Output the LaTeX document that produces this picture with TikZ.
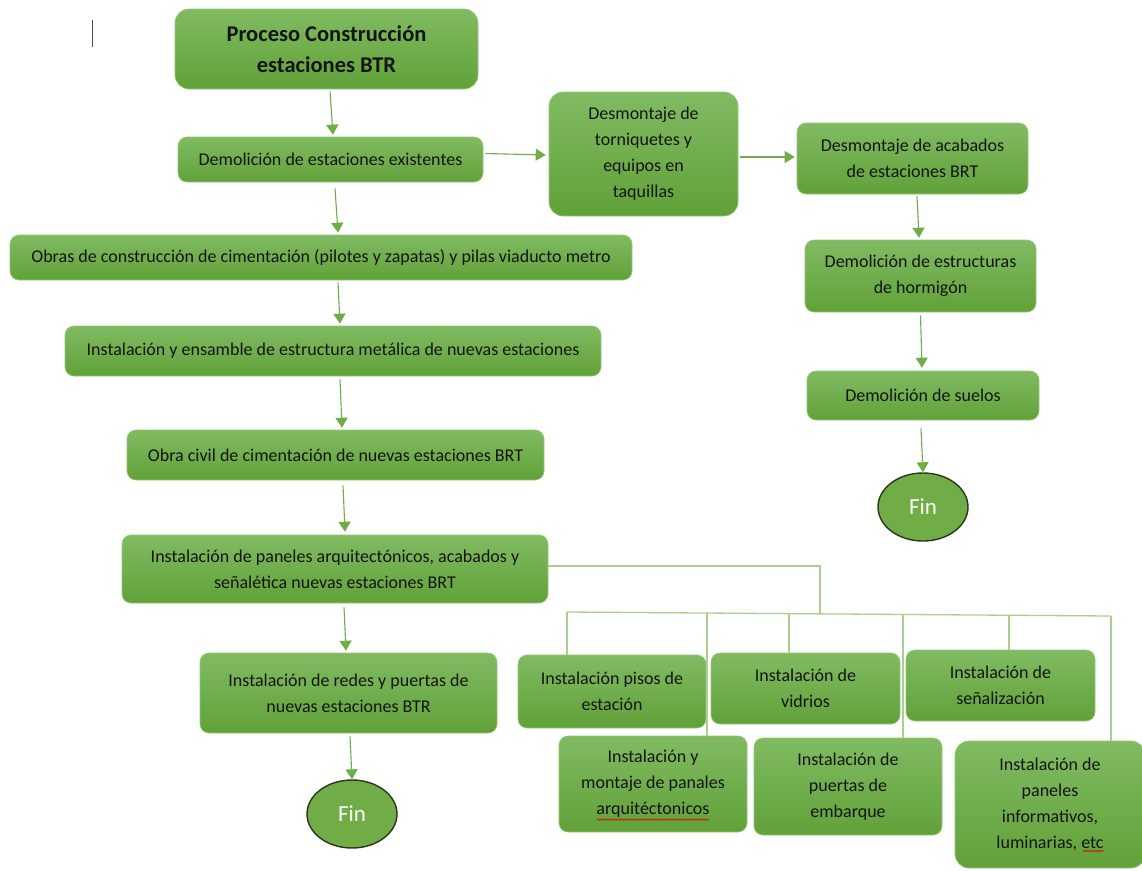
\documentclass[tikz,border=0pt]{standalone}
\usepackage{fontspec}
\setmainfont{Carlito}
\usetikzlibrary{arrows.meta,shapes.geometric,decorations.pathmorphing}

\definecolor{gtop}{RGB}{128,187,98}
\definecolor{gbot}{RGB}{97,161,56}
\definecolor{gedge}{RGB}{150,200,120}
\definecolor{arrowc}{RGB}{112,173,71}
\definecolor{treec}{RGB}{169,208,142}
\definecolor{finedge}{RGB}{40,55,30}
\definecolor{txt}{RGB}{20,20,20}

\begin{document}
\begin{tikzpicture}[x=1pt,y=-1pt,
  box/.style={rounded corners=9pt, top color=gtop, bottom color=gbot, draw=gedge,
    line width=0.6pt, align=center, inner sep=0pt, text=txt,
    font=\fontsize{18}{26}\selectfont},
  bigbox/.style={box, rounded corners=14pt},
  flow/.style={draw=arrowc, line width=1.1pt, -{Triangle[width=12pt,length=10pt]}},
  tree/.style={draw=treec, line width=1.3pt},
  finnode/.style={ellipse, fill=arrowc, draw=finedge, line width=1.4pt,
    minimum width=90pt, minimum height=68pt, text=white,
    font=\fontsize{23}{26}\selectfont, inner sep=0pt}
]
\fill[white] (0,0) rectangle (1142,870);
\useasboundingbox (0,0) rectangle (1142,870);

% text cursor
\draw[black!70, line width=1pt] (92,20) -- (92,47);

% main column
\node[bigbox, minimum width=303pt, minimum height=80pt,
  font=\fontsize{22.5}{31}\selectfont\bfseries] (title) at (326.5,49)
  {Proceso Construcción\\estaciones BTR};
\node[box, minimum width=305pt, minimum height=45pt] (demol) at (330.5,159.5)
  {Demolición de estaciones existentes};
\node[box, minimum width=622pt, minimum height=45pt] (obras) at (321,257.5)
  {Obras de construcción de cimentación (pilotes y zapatas) y pilas viaducto metro};
\node[box, minimum width=536pt, minimum height=50pt] (ensam) at (333,351)
  {Instalación y ensamble de estructura metálica de nuevas estaciones};
\node[box, minimum width=417pt, minimum height=50pt] (civil) at (335.5,455)
  {Obra civil de cimentación de nuevas estaciones BRT};
\node[box, minimum width=426pt, minimum height=68pt] (panel) at (335,569)
  {Instalación de paneles arquitectónicos, acabados y\\señalética nuevas estaciones BRT};
\node[box, minimum width=297pt, minimum height=80pt] (redes) at (348.5,693)
  {Instalación de redes y puertas de\\nuevas estaciones BTR};
\node[finnode] (finL) at (352,814) {Fin};

% demolition branch
\node[bigbox, minimum width=189pt, minimum height=124pt] (torn) at (643.5,154)
  {Desmontaje de\\torniquetes y\\equipos en\\taquillas};
\node[box, minimum width=231pt, minimum height=71pt] (acab) at (912.5,158.5)
  {Desmontaje de acabados\\de estaciones BRT};
\node[box, minimum width=231pt, minimum height=72pt] (horm) at (920.5,276)
  {Demolición de estructuras\\de hormigón};
\node[box, minimum width=232pt, minimum height=49pt] (suelos) at (923,395.5)
  {Demolición de suelos};
\node[finnode] (finR) at (923,507) {Fin};

% installation tasks
\node[box, minimum width=188pt, minimum height=73pt] (pisos) at (612,691.5)
  {Instalación pisos de\\estación};
\node[box, minimum width=188pt, minimum height=96pt] (montaje) at (653,784)
  {Instalación y\\montaje de panales\\arquitéctonicos};
\node[box, minimum width=189pt, minimum height=71pt] (vidrios) at (805.5,688.5)
  {Instalación de\\vidrios};
\node[box, minimum width=188pt, minimum height=97pt] (puertas) at (848,786.5)
  {Instalación de\\puertas de\\embarque};
\node[box, minimum width=189pt, minimum height=71pt] (senal) at (1000.5,685.5)
  {Instalación de\\señalización};
\node[bigbox, minimum width=190pt, minimum height=127pt] (info) at (1050,804.5)
  {Instalación de\\paneles\\informativos,\\luminarias, etc};

% spelling marks
\draw[red!85!black, line width=0.6pt, decorate,
  decoration={snake, amplitude=0.8pt, segment length=3pt}] (597,819.5) -- (709,819.5);
\draw[red!85!black, line width=0.6pt, decorate,
  decoration={snake, amplitude=0.8pt, segment length=3pt}] (1083,851) -- (1104,851);

% flow arrows
\draw[flow] ([xshift=3.5pt,yshift=-2pt]title.south) -- ([xshift=2.5pt,yshift=2pt]demol.north);
\draw[flow] ([xshift=2pt,yshift=6pt]demol.east) -- ([xshift=-3pt,yshift=-1pt]torn.west);
\draw[flow] ([xshift=2pt,yshift=-3pt]torn.east) -- ([xshift=-2pt,yshift=1.5pt]acab.west);
\draw[flow] ([xshift=4.5pt,yshift=-2pt]acab.south) -- ([xshift=-1.5pt,yshift=2pt]horm.north);
\draw[flow] ([yshift=-3pt]horm.south) -- ([xshift=-1pt,yshift=3pt]suelos.north);
\draw[flow] ([xshift=-2pt,yshift=-8pt]suelos.south) -- (finR.north);
\draw[flow] ([xshift=4.5pt,yshift=-6pt]demol.south) -- ([xshift=17pt,yshift=2pt]obras.north);
\draw[flow] ([xshift=17pt,yshift=-2pt]obras.south) -- ([xshift=7pt,yshift=2pt]ensam.north);
\draw[flow] ([xshift=7pt,yshift=-3pt]ensam.south) -- ([xshift=6.5pt,yshift=2pt]civil.north);
\draw[flow] ([xshift=7.5pt,yshift=-5pt]civil.south) -- ([xshift=10pt,yshift=3pt]panel.north);
\draw[flow] ([xshift=9pt,yshift=-4pt]panel.south) -- ([xshift=-2.5pt,yshift=2pt]redes.north);
\draw[flow] ([xshift=1.5pt,yshift=-3pt]redes.south) -- (finL.north);

% distribution tree
\coordinate (bend) at (820,566);
\coordinate (busmid) at (820,612.5);
\coordinate (busL) at (567,612);
\coordinate (bus2) at (707,613);
\coordinate (bus3) at (789,613.6);
\coordinate (bus4) at (903,614.5);
\coordinate (bus5) at (1009,615.3);
\coordinate (busR) at (1111,616);
\draw[tree] ([yshift=3pt]panel.east) -- (bend) -- (busmid);
\draw[tree] (busL) -- (busR);
\draw[tree] (busL) -- (busL |- pisos.north);
\draw[tree] (bus2) -- (bus2 |- montaje.north);
\draw[tree] (bus3) -- (bus3 |- vidrios.north);
\draw[tree] (bus4) -- (bus4 |- puertas.north);
\draw[tree] (bus5) -- (bus5 |- senal.north);
\draw[tree] (busR) -- (busR |- info.north);
\end{tikzpicture}
\end{document}
